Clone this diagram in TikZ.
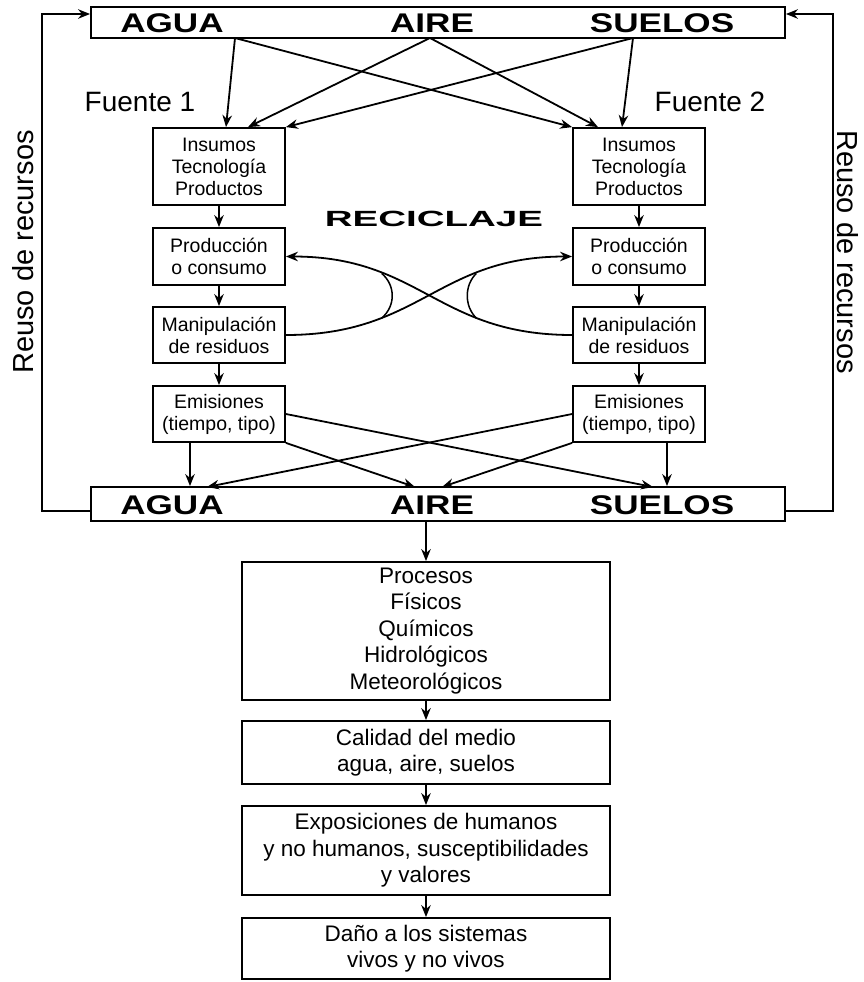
\documentclass[tikz,border=0pt]{standalone}
\usepackage{fontspec}
\setmainfont{Liberation Sans}
\usepackage{graphicx}
\usepackage{tikz}
\usetikzlibrary{arrows.meta,positioning,calc}
\newcommand{\widebf}[2]{\scalebox{#1}[1]{\bfseries #2}}

\begin{document}
\begin{tikzpicture}[x=1pt,y=-1pt,>={Stealth[length=12pt,width=9.5pt]},line width=1.8pt,
  every node/.style={inner sep=0pt,font=\fontsize{19.5}{22}\selectfont},
  srcbox/.style={draw,minimum width=132pt,align=center},
  medbox/.style={draw,minimum width=694pt},
  effbox/.style={draw,minimum width=368pt,align=center,font=\fontsize{22.5}{26.5}\selectfont},
  medlbl/.style={font=\fontsize{27}{30}\selectfont},
  biglbl/.style={font=\fontsize{28}{30}\selectfont},
  reulbl/.style={font=\fontsize{29}{30}\selectfont}]
  \useasboundingbox (0,0) rectangle (864,982);
  % medio receptor
  \node[medbox,minimum height=31pt](top) at (438,22.5){};
  \node[medlbl](agua1) at (172,23){\widebf{1.3}{AGUA}};
  \node[medlbl](aire1) at (432,23){\widebf{1.3}{AIRE}};
  \node[medlbl](suelos1) at (662,23){\widebf{1.3}{SUELOS}};
  \node[medbox,minimum height=34pt](bot) at (438,504){};
  \node[medlbl](agua2) at (172,505){\widebf{1.3}{AGUA}};
  \node[medlbl](aire2) at (432,505){\widebf{1.3}{AIRE}};
  \node[medlbl](suelos2) at (662,505){\widebf{1.3}{SUELOS}};
  \node[biglbl](f1) at (140,102){Fuente 1};
  \node[biglbl](f2) at (710,102){Fuente 2};
  \node[font=\fontsize{22}{24}\selectfont](recic) at (434,219){\widebf{1.75}{RECICLAJE}};
  \node[reulbl,rotate=90](reuL) at (23,252){Reuso de recursos};
  \node[reulbl,rotate=-90](reuR) at (848,252){Reuso de recursos};
  % fuentes
  \foreach \s/\x in {L/219,R/639}{
    \node[srcbox,minimum height=77pt](ins\s) at (\x,166.5){Insumos\\Tecnología\\Productos};
    \node[srcbox,minimum height=57pt](prod\s) at (\x,256.5){Producción\\o consumo};
    \node[srcbox,minimum height=56pt](man\s) at (\x,335){Manipulación\\de residuos};
    \node[srcbox,minimum height=56pt](em\s) at (\x,414){Emisiones\\(tiempo, tipo)};
    \draw[->](ins\s)--(prod\s);
    \draw[->](prod\s)--(man\s);
    \draw[->](man\s)--(em\s);
  }
  % efectos
  \node[effbox,minimum height=138pt](proc) at (426,631){Procesos\\Físicos\\Químicos\\Hidrológicos\\Meteorológicos};
  \node[effbox,minimum height=63pt](cal) at (426,752.5){Calidad del medio\\agua, aire, suelos};
  \node[effbox,minimum height=89pt](expo) at (426,850.5){Exposiciones de humanos\\y no humanos, susceptibilidades\\y valores};
  \node[effbox,minimum height=61pt](dano) at (426,948.5){Daño a los sistemas\\vivos y no vivos};
  \draw[->](bot.south -| proc)--(proc);
  \draw[->](proc)--(cal);
  \draw[->](cal)--(expo);
  \draw[->](expo)--(dano);
  % entradas
  \coordinate (tA) at (235,38);
  \coordinate (tB) at (430,38);
  \coordinate (tC) at (633,38);
  \draw[->](tA)--([xshift=7]insL.north);
  \draw[->](tA)--(insR.north west);
  \draw[->](tB)--([xshift=29]insL.north);
  \draw[->](tB)--([xshift=-41]insR.north);
  \draw[->](tC)--(insL.north east);
  \draw[->](tC)--([xshift=-17]insR.north);
  % emisiones
  \coordinate (pA) at (207,487);
  \coordinate (pB) at (415,487);
  \coordinate (pC) at (442,487);
  \coordinate (pD) at (653,487);
  \draw[->]([xshift=-29]emL.south)--([xshift=-29]emL.south |- bot.north);
  \draw[->]([xshift=28]emR.south)--([xshift=28]emR.south |- bot.north);
  \draw[->](emL.east)--(pD);
  \draw[->](emL.south east)--(pB);
  \draw[->](emR.west)--(pA);
  \draw[->](emR.south west)--(pC);
  % reciclaje
  \draw[->](manL.east) .. controls +(135,0) and +(-135,0) .. coordinate[pos=0.3](a3) coordinate[pos=0.7](a7) (prodR.west);
  \draw[->](manR.west) .. controls +(-135,0) and +(135,0) .. coordinate[pos=0.3](b3) coordinate[pos=0.7](b7) (prodL.east);
  \draw[line width=1.5pt](b7) .. controls +(14,12) and +(14,-12) .. (a3);
  \draw[line width=1.5pt](a7) .. controls +(-12,12) and +(-12,-12) .. (b3);
  % reuso
  \draw[->]([yshift=-7pt]bot.west)--++(-48,0)|-([yshift=8.5pt]top.west);
  \draw[->]([yshift=-7pt]bot.east)--++(47,0)|-([yshift=8.5pt]top.east);
\end{tikzpicture}
\end{document}
